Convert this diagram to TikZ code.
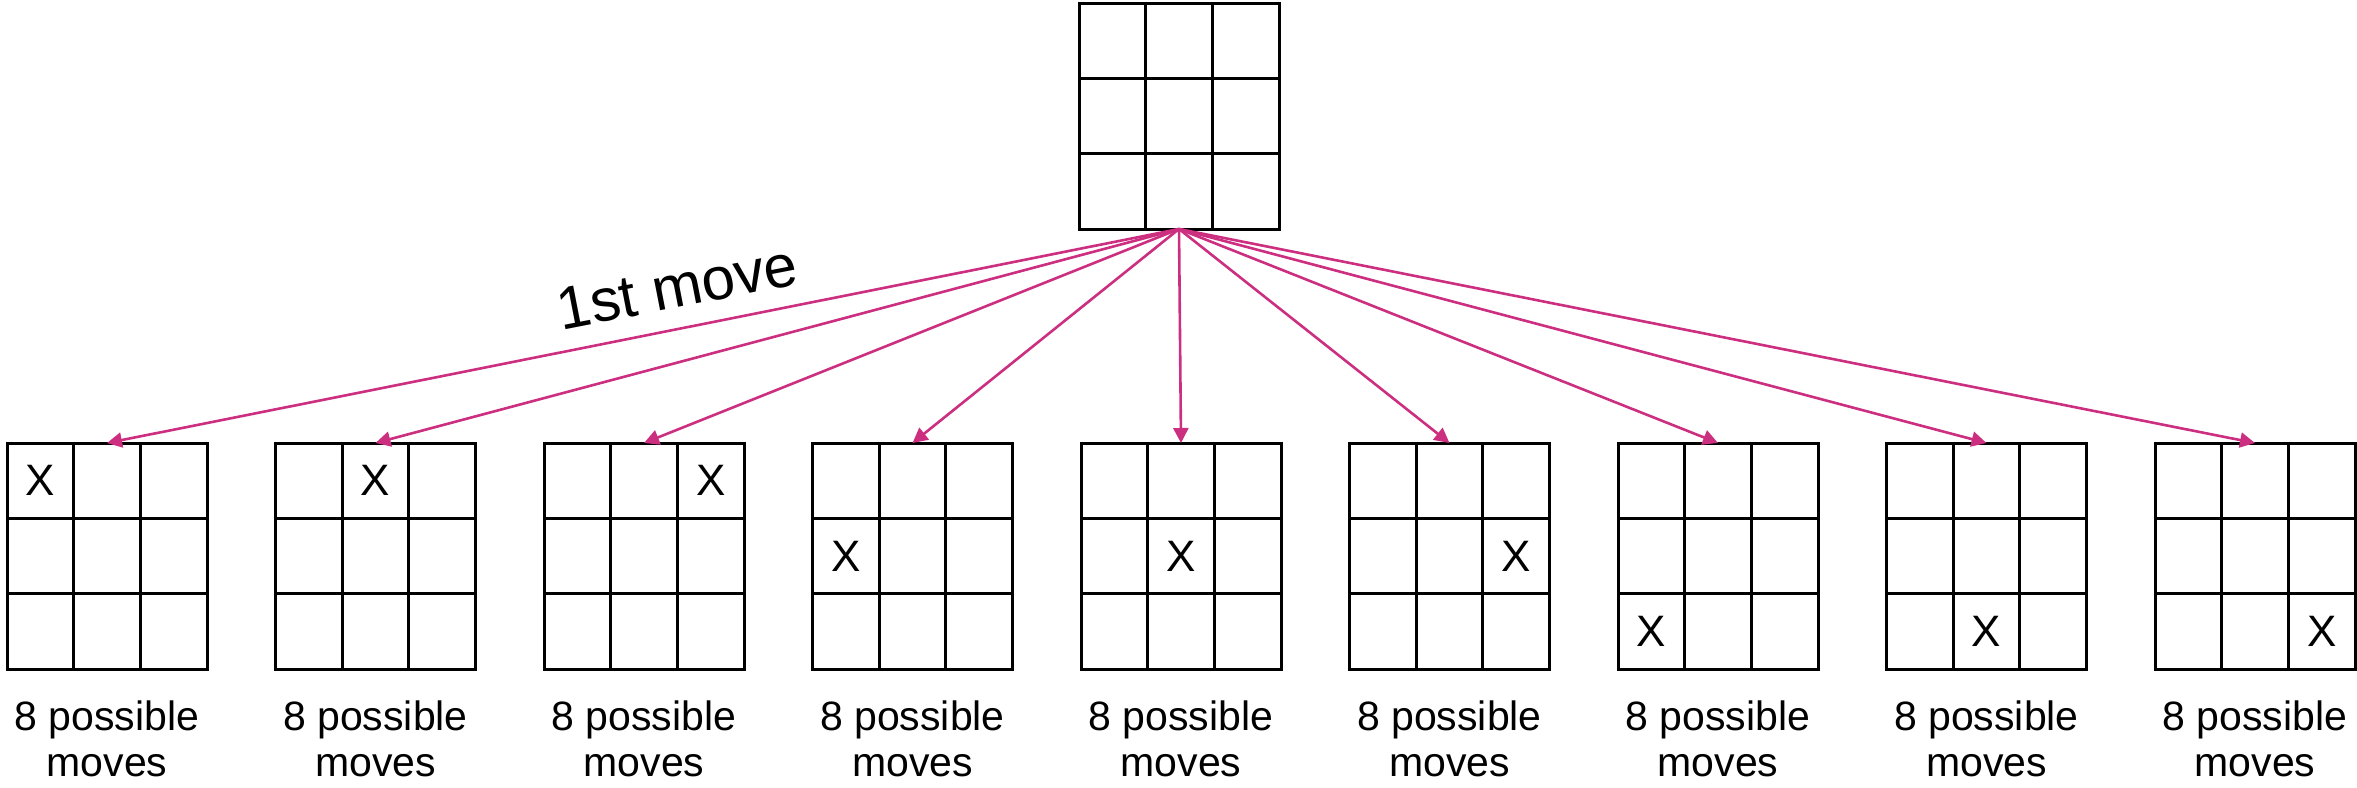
\documentclass[tikz,border=0pt]{standalone}
\usepackage{fontspec}
\setmainfont{Liberation Sans}
\usetikzlibrary{arrows.meta,calc}
\definecolor{mag}{HTML}{CC2E80}
\begin{document}
\begin{tikzpicture}[x=1pt,y=-1pt,
  board/.style={draw=black,line width=3pt,rectangle,minimum width=200pt,minimum height=226pt,inner sep=0pt,outer sep=0pt,anchor=north west},
  gridline/.style={line width=3pt},
  movearrow/.style={draw=mag,line width=2.6pt,-{Triangle[width=15pt,length=15pt]}},
  xmark/.style={font=\fontsize{44}{44}\selectfont,inner sep=0pt},
  lbl/.style={font=\fontsize{41}{46}\selectfont,align=center,inner sep=0pt,anchor=north}]
\useasboundingbox (0,0) rectangle (2357,787);
% top board
\node[board] (top) at (1079,3) {};
% bottom boards
\foreach \i in {0,...,8} {
  \pgfmathsetmacro\xx{7+268.5*\i}
  \node[board] (b\i) at (\xx,443) {};
  \pgfmathtruncatemacro\cc{mod(\i,3)}
  \pgfmathtruncatemacro\rr{int(\i/3)}
  \node[xmark] (x\i) at ($(b\i.north west)+({33.3+66.7*\cc},{37.7+75.3*\rr})$) {X};
  \node[lbl] (l\i) at ($(b\i.south)+(0,32)$) {8 possible\\moves};
}
% inner grid lines
\foreach \g in {top,b0,b1,b2,b3,b4,b5,b6,b7,b8} {
  \draw[gridline] ($(\g.north west)!1/3!(\g.north east)$) -- ($(\g.south west)!1/3!(\g.south east)$);
  \draw[gridline] ($(\g.north west)!2/3!(\g.north east)$) -- ($(\g.south west)!2/3!(\g.south east)$);
  \draw[gridline] ($(\g.north west)!1/3!(\g.south west)$) -- ($(\g.north east)!1/3!(\g.south east)$);
  \draw[gridline] ($(\g.north west)!2/3!(\g.south west)$) -- ($(\g.north east)!2/3!(\g.south east)$);
}
% arrows
\foreach \i in {0,...,8} {
  \draw[movearrow] (top.south) -- (b\i.north);
}
% label
\node[font=\fontsize{60}{60}\selectfont,rotate=11,inner sep=0pt] (first) at (677,287) {1st move};
\end{tikzpicture}
\end{document}
